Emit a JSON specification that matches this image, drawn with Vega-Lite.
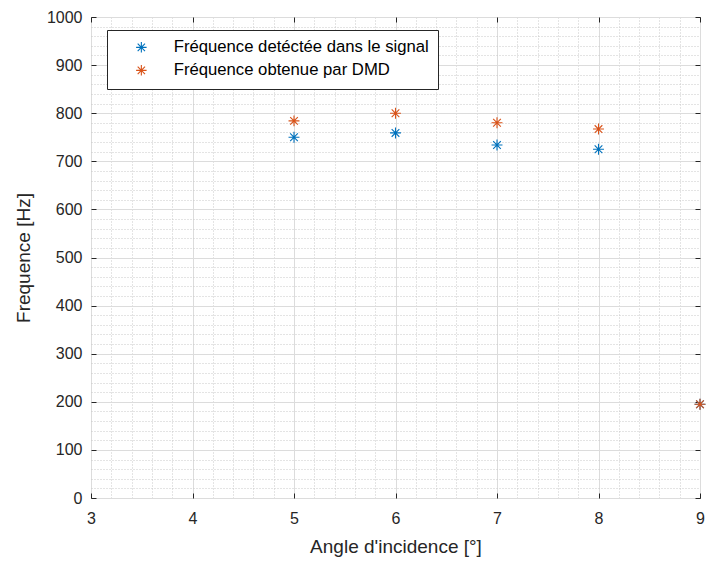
{
  "$schema": "https://vega.github.io/schema/vega-lite/v6.json",
  "width": 609,
  "height": 481,
  "autosize": "none",
  "padding": {"left": 91, "top": 17, "right": 8, "bottom": 66},
  "background": "white",
  "config": {
    "view": {"stroke": "#262626", "strokeWidth": 1},
    "font": "Liberation Sans",
    "axis": {"labelColor": "#262626", "titleColor": "#262626", "labelFontSize": 16, "titleFontSize": 19, "titleFontWeight": "normal", "domain": false, "format": "d", "labelFlush": false, "labelOverlap": false}
  },
  "data": {
    "values": [
      {"angle": 5, "freq": 750, "serie": "Fréquence detéctée dans le signal"},
      {"angle": 6, "freq": 759, "serie": "Fréquence detéctée dans le signal"},
      {"angle": 7, "freq": 734, "serie": "Fréquence detéctée dans le signal"},
      {"angle": 8, "freq": 725, "serie": "Fréquence detéctée dans le signal"},
      {"angle": 9, "freq": 195, "serie": "Fréquence detéctée dans le signal"},
      {"angle": 5, "freq": 784, "serie": "Fréquence obtenue par DMD"},
      {"angle": 6, "freq": 800, "serie": "Fréquence obtenue par DMD"},
      {"angle": 7, "freq": 780, "serie": "Fréquence obtenue par DMD"},
      {"angle": 8, "freq": 767, "serie": "Fréquence obtenue par DMD"},
      {"angle": 9, "freq": 195, "serie": "Fréquence obtenue par DMD"}
    ]
  },
  "layer": [
    {
      "mark": {"type": "point", "opacity": 0},
      "encoding": {
        "x": {"field": "angle", "type": "quantitative", "scale": {"domain": [3, 9], "nice": false, "zero": false},
          "axis": {"values": [3.2,3.4,3.6,3.8,4.2,4.4,4.6,4.8,5.2,5.4,5.6,5.8,6.2,6.4,6.6,6.8,7.2,7.4,7.6,7.8,8.2,8.4,8.6,8.8], "labels": false, "ticks": false, "title": null, "grid": true, "gridColor": "#c8c8c8", "gridDash": [1, 2], "gridWidth": 1}},
        "y": {"field": "freq", "type": "quantitative", "scale": {"domain": [0, 1000], "nice": false},
          "axis": {"values": [20,40,60,80,120,140,160,180,220,240,260,280,320,340,360,380,420,440,460,480,520,540,560,580,620,640,660,680,720,740,760,780,820,840,860,880,920,940,960,980], "labels": false, "ticks": false, "title": null, "grid": true, "gridColor": "#c8c8c8", "gridDash": [1, 2], "gridWidth": 1}}
      }
    },
    {
      "mark": {"type": "point", "opacity": 0},
      "encoding": {
        "x": {"field": "angle", "type": "quantitative", "axis": {"orient": "top", "values": [3,4,5,6,7,8,9], "labels": false, "tickSize": -5, "tickColor": "#262626", "title": null, "grid": false}},
        "y": {"field": "freq", "type": "quantitative", "axis": {"orient": "right", "values": [0,100,200,300,400,500,600,700,800,900,1000], "labels": false, "tickSize": -5, "tickColor": "#262626", "title": null, "grid": false}}
      }
    },
    {
      "mark": {"type": "point", "shape": "M-1,0L1,0M0,-1L0,1M-0.7,-0.7L0.7,0.7M-0.7,0.7L0.7,-0.7", "filled": false, "size": 120, "strokeWidth": 1.1, "opacity": 1},
      "encoding": {
        "x": {"field": "angle", "type": "quantitative", "title": "Angle d'incidence [°]",
          "axis": {"values": [3,4,5,6,7,8,9], "tickSize": -5, "tickColor": "#262626", "grid": true, "gridColor": "#dcdcdc", "gridWidth": 1, "labelPadding": 17, "titlePadding": 11}},
        "y": {"field": "freq", "type": "quantitative", "title": "Frequence [Hz]",
          "axis": {"values": [0,100,200,300,400,500,600,700,800,900,1000], "tickSize": -5, "tickColor": "#262626", "grid": true, "gridColor": "#dcdcdc", "gridWidth": 1, "labelPadding": 14, "titlePadding": 13}},
        "color": {"field": "serie", "type": "nominal",
          "scale": {"domain": ["Fréquence detéctée dans le signal", "Fréquence obtenue par DMD"], "range": ["#0072BD", "#D95319"]},
          "legend": {"title": null, "orient": "none", "legendX": 16, "legendY": 13, "strokeColor": "#262626", "fillColor": "white", "padding": 9, "labelFontSize": 16.7, "labelColor": "#000000", "symbolType": "M-1,0L1,0M0,-1L0,1M-0.7,-0.7L0.7,0.7M-0.7,0.7L0.7,-0.7", "symbolSize": 110, "symbolStrokeWidth": 1.1, "symbolOffset": 17, "labelOffset": 24, "rowPadding": 5, "labelLimit": 400}}
      }
    }
  ],
  "resolve": {"axis": {"x": "independent", "y": "independent"}}
}
